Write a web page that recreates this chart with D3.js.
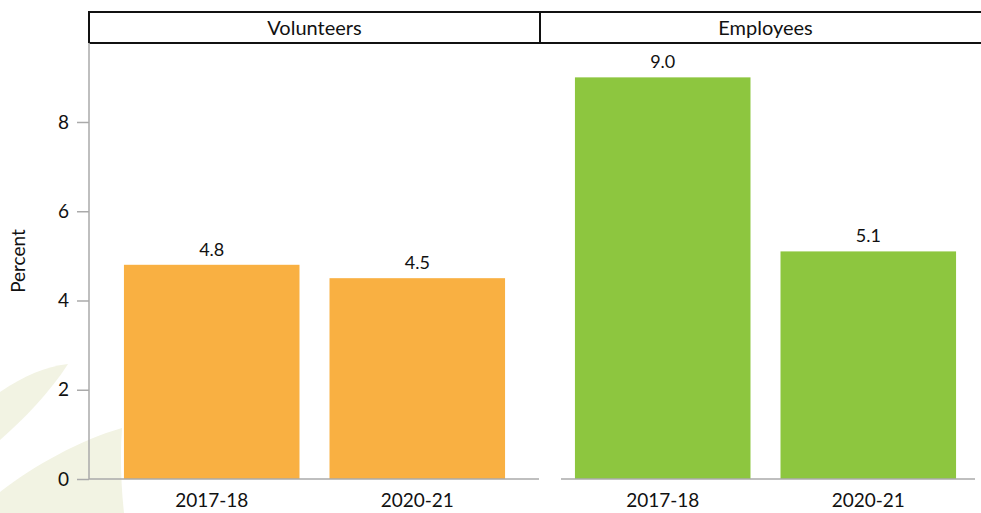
<!DOCTYPE html>
<html>
<head>
<meta charset="utf-8">
<script src="https://cdn.jsdelivr.net/npm/d3@7"></script>
<style>
  html, body { margin: 0; padding: 0; background: #fff; }
  svg { display: block; font-family: Lato, "Open Sans", sans-serif; }
</style>
</head>
<body>
<svg id="chart" width="981" height="513"></svg>
<script>
// Data
const panels = ["Volunteers", "Employees"];
const periods = ["2017-18", "2020-21"];
const volunteers = [4.8, 4.5];
const employees = [9.0, 5.1];
const yTicks = [0, 2, 4, 6, 8];
const yLabel = "Percent";

const seriesByPanel = [volunteers, employees];
const panelColors = ["#f9b042", "#8dc63f"];

const svg = d3.select("#chart");
const W = 981, H = 513;

// Layout
const plotLeft = 89, plotTop = 43, plotBottom = 479, stripTop = 12;
const panelW = 451;

// Decorative background leaves
const bg = svg.append("g").attr("fill", "#f2f3e3");
bg.append("path").attr("d", "M0,392 C25,375 45,367 68,364 C50,392 25,418 0,440 Z");
bg.append("path").attr("d", "M0,492 C35,465 80,440 122,428 C120,455 121,485 124,513 L0,513 Z");

const y = d3.scaleLinear().domain([0, 9.77]).range([plotBottom, plotTop]);

// Panel x positions
const px = d3.scaleBand().domain(panels).range([plotLeft, plotLeft + panelW * 2]).padding(0);

// Strip header
const strip = svg.append("g");
panels.forEach((p) => {
  const x0 = px(p);
  strip.append("text")
    .attr("x", x0 + panelW / 2)
    .attr("y", (stripTop + plotTop) / 2)
    .attr("dy", "0.35em")
    .attr("text-anchor", "middle")
    .attr("font-size", 20)
    .attr("fill", "#111")
    .text(p);
});
strip.append("path")
  .attr("d", `M${plotLeft},${plotTop} V${stripTop} H${W + 2} M${plotLeft},${plotTop} H${W + 2} M${plotLeft + panelW},${stripTop} V${plotTop}`)
  .attr("fill", "none")
  .attr("stroke", "#111")
  .attr("stroke-width", 2);

// Y axis
const yAxis = svg.append("g")
  .attr("transform", `translate(${plotLeft},0)`)
  .call(d3.axisLeft(y).tickValues(yTicks).tickSize(12).tickPadding(8).tickFormat(d3.format("d")));
yAxis.select(".domain").remove();
yAxis.selectAll(".tick line").attr("stroke", "#aaa").attr("stroke-width", 1.5);
yAxis.selectAll(".tick text").attr("font-size", 19).attr("fill", "#111").attr("font-family", "Lato, sans-serif");
svg.append("line")
  .attr("x1", plotLeft).attr("x2", plotLeft).attr("y1", plotTop).attr("y2", plotBottom)
  .attr("stroke", "#aaa").attr("stroke-width", 1.5);

svg.append("text")
  .attr("transform", `translate(18,${(plotTop + plotBottom) / 2}) rotate(-90)`)
  .attr("text-anchor", "middle")
  .attr("dy", "0.35em")
  .attr("font-size", 19)
  .attr("fill", "#111")
  .text(yLabel);

// Panels
panels.forEach((p, i) => {
  const x0 = px(p);
  const x = d3.scaleBand().domain(periods)
    .range([x0, x0 + panelW])
    .paddingInner(0.146).paddingOuter(0.17);
  const g = svg.append("g");
  const vals = seriesByPanel[i];

  g.selectAll("rect").data(periods).join("rect")
    .attr("x", d => x(d))
    .attr("width", x.bandwidth())
    .attr("y", (d, j) => y(vals[j]))
    .attr("height", (d, j) => y(0) - y(vals[j]))
    .attr("fill", panelColors[i]);

  g.selectAll("text.val").data(periods).join("text")
    .attr("class", "val")
    .attr("x", d => x(d) + x.bandwidth() / 2)
    .attr("y", (d, j) => y(vals[j]) - 9)
    .attr("text-anchor", "middle")
    .attr("font-size", 18)
    .attr("fill", "#111")
    .text((d, j) => d3.format(".1f")(vals[j]));

  // Baseline
  const bx0 = i === 0 ? x0 : x0 + 21;
  const bx1 = i === 0 ? x0 + panelW - 1 : x0 + 435;
  g.append("line")
    .attr("x1", bx0).attr("x2", bx1)
    .attr("y1", y(0)).attr("y2", y(0))
    .attr("stroke", "#aaa").attr("stroke-width", 1.5);

  g.selectAll("text.cat").data(periods).join("text")
    .attr("class", "cat")
    .attr("x", d => x(d) + x.bandwidth() / 2)
    .attr("y", 500)
    .attr("dy", "0.35em")
    .attr("text-anchor", "middle")
    .attr("font-size", 19)
    .attr("fill", "#111")
    .text(d => d);
});
</script>
</body>
</html>
